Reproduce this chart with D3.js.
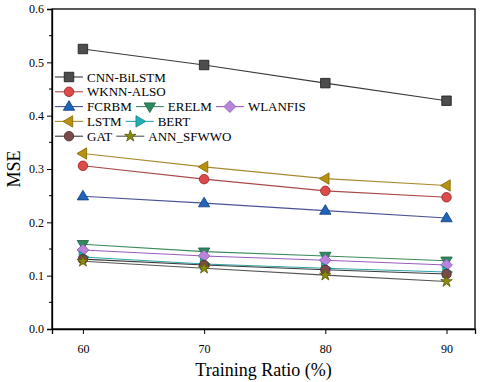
<!DOCTYPE html>
<html>
<head>
<meta charset="utf-8">
<script src="https://cdn.jsdelivr.net/npm/d3@7"></script>
<style>
  body { margin: 0; background: #fff; }
  svg text { font-family: "Liberation Serif", "Times New Roman", serif; }
</style>
</head>
<body>
<div id="chart"></div>
<script>
const width = 480, height = 382,
  margin = { top: 9, right: 5, bottom: 53, left: 52 }
const serif = "'Liberation Serif', 'Times New Roman', serif"

// Training ratio (%)
const ratios = [60, 70, 80, 90]
const yTicks = [0, 0.1, 0.2, 0.3, 0.4, 0.5, 0.6]

const cnnBiLSTM = [0.525, 0.495, 0.461, 0.428]
const wknnAlso = [0.306, 0.281, 0.259, 0.247]
const fcrbm = [0.249, 0.236, 0.222, 0.208]
const erelm = [0.159, 0.145, 0.137, 0.128]
const wlanfis = [0.148, 0.137, 0.129, 0.120]
const lstm = [0.329, 0.304, 0.282, 0.269]
const bert = [0.135, 0.122, 0.114, 0.107]
const gat = [0.131, 0.120, 0.111, 0.103]
const annSfwwo = [0.127, 0.114, 0.101, 0.089]

const series = [
  { name: "CNN-BiLSTM", values: cnnBiLSTM, line: "#3a3a3a", fill: "#4d4d4d", stroke: "#1a1a1a", sym: "square" },
  { name: "WKNN-ALSO", values: wknnAlso, line: "#a84848", fill: "#dc4a4a", stroke: "#9a2020", sym: "circle" },
  { name: "FCRBM", values: fcrbm, line: "#4a5296", fill: "#1f64b8", stroke: "#123e80", sym: "triangle" },
  { name: "ERELM", values: erelm, line: "#3c8a5c", fill: "#2f8a60", stroke: "#1c6040", sym: "triangleDown" },
  { name: "WLANFIS", values: wlanfis, line: "#9a5cbc", fill: "#b884dc", stroke: "#8a58b0", sym: "diamond" },
  { name: "LSTM", values: lstm, line: "#a88a30", fill: "#b8920c", stroke: "#806400", sym: "triangleLeft" },
  { name: "BERT", values: bert, line: "#2fa4a8", fill: "#1fb0b4", stroke: "#108088", sym: "triangleRight" },
  { name: "GAT", values: gat, line: "#3a3a3a", fill: "#7a4a4a", stroke: "#4a2828", sym: "circle" },
  { name: "ANN_SFWWO", values: annSfwwo, line: "#555555", fill: "#8a8a10", stroke: "#5a5a00", sym: "star" }
]

// legend rows
const legendRows = [["CNN-BiLSTM"], ["WKNN-ALSO"], ["FCRBM", "ERELM", "WLANFIS"], ["LSTM", "BERT"], ["GAT", "ANN_SFWWO"]]

const svg = d3.select("#chart").append("svg")
  .attr("width", width).attr("height", height)
  .style("font-family", serif)

const x = d3.scaleLinear().domain([57.45, 92.35]).range([margin.left, width - margin.right])
const y = d3.scaleLinear().domain([0, 0.6]).range([height - margin.bottom, margin.top])

// symbol path builder
function symbolPath(sym, s) {
  if (sym === "square") return d3.symbol(d3.symbolSquare, s * s)()
  if (sym === "circle") return d3.symbol(d3.symbolCircle, Math.PI * s * s / 4)()
  if (sym === "diamond") { const r = s * 0.62; return `M0,${-r}L${r},0L0,${r}L${-r},0Z` }
  if (sym === "star") return d3.symbol(d3.symbolStar, s * s * 0.45)()
  const r = s * 0.6
  const tri = [[0, -r * 1.05], [r, r * 0.65], [-r, r * 0.65]]
  const rot = { triangle: 0, triangleDown: 180, triangleLeft: -90, triangleRight: 90 }[sym]
  const a = rot * Math.PI / 180
  return "M" + tri.map(([px, py]) => [px * Math.cos(a) - py * Math.sin(a), px * Math.sin(a) + py * Math.cos(a)].map(v => v.toFixed(2)).join(",")).join("L") + "Z"
}

// frame
svg.append("rect")
  .attr("x", margin.left).attr("y", margin.top)
  .attr("width", width - margin.right - margin.left)
  .attr("height", height - margin.bottom - margin.top)
  .attr("fill", "none").attr("stroke", "#000").attr("stroke-width", 1.3)

// y axis
const yAxis = d3.axisLeft(y).tickValues(yTicks).tickFormat(d3.format(".1f")).tickSize(5).tickPadding(3)
const gy = svg.append("g").attr("transform", `translate(${margin.left},0)`).call(yAxis)
  .attr("font-family", serif)
gy.select(".domain").attr("stroke-width", 1.3)
gy.selectAll("text").attr("font-size", 12)
const yMinor = d3.range(0.05, 0.6, 0.1)
gy.selectAll(".minor").data(yMinor).join("line")
  .attr("x1", -3).attr("x2", 0).attr("y1", d => y(d)).attr("y2", d => y(d)).attr("stroke", "#000")

// x axis
const xAxis = d3.axisBottom(x).tickValues(ratios).tickSize(5).tickPadding(10)
const gx = svg.append("g").attr("transform", `translate(0,${height - margin.bottom})`).call(xAxis)
  .attr("font-family", serif)
gx.select(".domain").attr("stroke-width", 1.3)
gx.selectAll("text").attr("font-size", 12)

// axis titles
svg.append("text")
  .attr("x", (margin.left + width - margin.right) / 2).attr("y", 376)
  .attr("text-anchor", "middle").attr("font-size", 18)
  .text("Training Ratio (%)")
svg.append("text")
  .attr("transform", `translate(20,${y(0.3)}) rotate(-90)`)
  .attr("text-anchor", "middle").attr("font-size", 18)
  .text("MSE")

// lines and markers
const line = d3.line().x((d, i) => x(ratios[i])).y(d => y(d))
const groups = svg.selectAll(".series").data(series).join("g").attr("class", "series")
groups.append("path")
  .attr("d", d => line(d.values))
  .attr("fill", "none").attr("stroke", d => d.line).attr("stroke-width", 1.1)
groups.each(function (s) {
  d3.select(this).selectAll(".mk").data(s.values).join("path")
    .attr("class", "mk")
    .attr("transform", (d, i) => `translate(${x(ratios[i])},${y(d)})`)
    .attr("d", symbolPath(s.sym, 9.5))
    .attr("fill", s.fill).attr("stroke", s.stroke).attr("stroke-width", 0.8)
})

// legend
const legend = svg.append("g").attr("transform", "translate(55,77)")
const byName = new Map(series.map(s => [s.name, s]))
legendRows.forEach((row, r) => {
  let cx = 0
  row.forEach(name => {
    const s = byName.get(name)
    const g = legend.append("g").attr("transform", `translate(${cx},${r * 14.8})`)
    g.append("line").attr("x1", 0).attr("x2", 28).attr("stroke", s.line).attr("stroke-width", 1.1)
    g.append("path").attr("transform", "translate(14,0)").attr("d", symbolPath(s.sym, 9.5))
      .attr("fill", s.fill).attr("stroke", s.stroke).attr("stroke-width", 0.8)
    const t = g.append("text").attr("x", 32).attr("y", 4.5).attr("font-size", 13).text(name)
    cx += 32 + t.node().getComputedTextLength() + 4
  })
})
</script>
</body>
</html>
